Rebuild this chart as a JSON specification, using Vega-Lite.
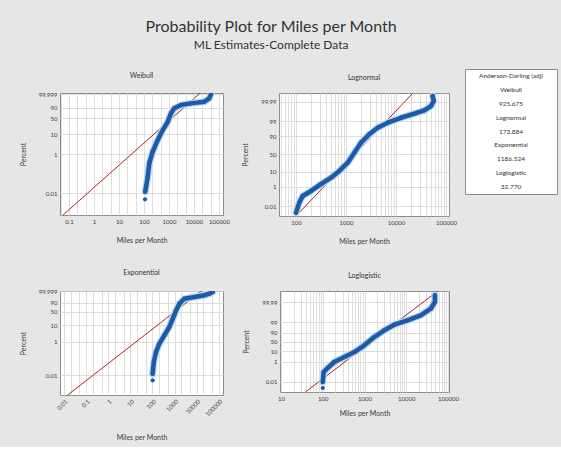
{
  "$schema": "https://vega.github.io/schema/vega-lite/v6.json",
  "background": "#e6e6e6",
  "padding": {"left": 18, "top": 18, "right": 4, "bottom": 6},
  "title": {
    "text": "Probability Plot for Miles per Month",
    "subtitle": "ML Estimates-Complete Data",
    "anchor": "middle",
    "fontSize": 16,
    "fontWeight": "normal",
    "color": "#333333",
    "subtitleFontSize": 12,
    "subtitleColor": "#333333",
    "subtitlePadding": 5,
    "offset": 13,
    "dx": -17
  },
  "datasets": {
    "pts": [
      {"panel": "Weibull", "i": 1, "miles": 110, "score": -9.93},
      {"panel": "Weibull", "i": 2, "miles": 112, "score": -9.04},
      {"panel": "Weibull", "i": 3, "miles": 141, "score": -7.27},
      {"panel": "Weibull", "i": 4, "miles": 163, "score": -5.69},
      {"panel": "Weibull", "i": 5, "miles": 223, "score": -4.33},
      {"panel": "Weibull", "i": 6, "miles": 354, "score": -2.95},
      {"panel": "Weibull", "i": 7, "miles": 562, "score": -1.78},
      {"panel": "Weibull", "i": 8, "miles": 891, "score": -0.80},
      {"panel": "Weibull", "i": 9, "miles": 1202, "score": 0.19},
      {"panel": "Weibull", "i": 10, "miles": 1622, "score": 0.78},
      {"panel": "Weibull", "i": 11, "miles": 3020, "score": 1.16},
      {"panel": "Weibull", "i": 12, "miles": 7586, "score": 1.36},
      {"panel": "Weibull", "i": 13, "miles": 25700, "score": 1.55},
      {"panel": "Weibull", "i": 14, "miles": 40700, "score": 1.95},
      {"panel": "Weibull", "i": 15, "miles": 47900, "score": 2.46},
      {"panel": "Lognormal", "i": 1, "miles": 100, "score": -4.19},
      {"panel": "Lognormal", "i": 2, "miles": 116, "score": -3.48},
      {"panel": "Lognormal", "i": 3, "miles": 136, "score": -3.0},
      {"panel": "Lognormal", "i": 4, "miles": 200, "score": -2.64},
      {"panel": "Lognormal", "i": 5, "miles": 316, "score": -2.16},
      {"panel": "Lognormal", "i": 6, "miles": 501, "score": -1.69},
      {"panel": "Lognormal", "i": 7, "miles": 735, "score": -1.21},
      {"panel": "Lognormal", "i": 8, "miles": 1081, "score": -0.62},
      {"panel": "Lognormal", "i": 9, "miles": 1466, "score": 0.09},
      {"panel": "Lognormal", "i": 10, "miles": 1995, "score": 0.81},
      {"panel": "Lognormal", "i": 11, "miles": 2924, "score": 1.41},
      {"panel": "Lognormal", "i": 12, "miles": 4305, "score": 1.88},
      {"panel": "Lognormal", "i": 13, "miles": 6823, "score": 2.24},
      {"panel": "Lognormal", "i": 14, "miles": 12590, "score": 2.59},
      {"panel": "Lognormal", "i": 15, "miles": 23230, "score": 2.88},
      {"panel": "Lognormal", "i": 16, "miles": 36810, "score": 3.12},
      {"panel": "Lognormal", "i": 17, "miles": 50120, "score": 3.43},
      {"panel": "Lognormal", "i": 18, "miles": 56750, "score": 3.79},
      {"panel": "Lognormal", "i": 19, "miles": 54200, "score": 4.14},
      {"panel": "Exponential", "i": 1, "miles": 102, "score": -9.92},
      {"panel": "Exponential", "i": 2, "miles": 102, "score": -9.0},
      {"panel": "Exponential", "i": 3, "miles": 115, "score": -7.38},
      {"panel": "Exponential", "i": 4, "miles": 145, "score": -5.99},
      {"panel": "Exponential", "i": 5, "miles": 205, "score": -4.84},
      {"panel": "Exponential", "i": 6, "miles": 345, "score": -3.67},
      {"panel": "Exponential", "i": 7, "miles": 577, "score": -2.52},
      {"panel": "Exponential", "i": 8, "miles": 830, "score": -1.36},
      {"panel": "Exponential", "i": 9, "miles": 1175, "score": -0.20},
      {"panel": "Exponential", "i": 10, "miles": 1660, "score": 0.72},
      {"panel": "Exponential", "i": 11, "miles": 2750, "score": 1.41},
      {"panel": "Exponential", "i": 12, "miles": 7940, "score": 1.65},
      {"panel": "Exponential", "i": 13, "miles": 22400, "score": 1.89},
      {"panel": "Exponential", "i": 14, "miles": 37500, "score": 2.11},
      {"panel": "Exponential", "i": 15, "miles": 53200, "score": 2.34},
      {"panel": "Loglogistic", "i": 1, "miles": 100, "score": -10.7},
      {"panel": "Loglogistic", "i": 2, "miles": 100, "score": -9.3},
      {"panel": "Loglogistic", "i": 3, "miles": 105, "score": -6.98},
      {"panel": "Loglogistic", "i": 4, "miles": 131, "score": -6.05},
      {"panel": "Loglogistic", "i": 5, "miles": 189, "score": -4.65},
      {"panel": "Loglogistic", "i": 6, "miles": 330, "score": -3.49},
      {"panel": "Loglogistic", "i": 7, "miles": 573, "score": -2.33},
      {"panel": "Loglogistic", "i": 8, "miles": 990, "score": -0.77},
      {"panel": "Loglogistic", "i": 9, "miles": 1710, "score": 1.16},
      {"panel": "Loglogistic", "i": 10, "miles": 2980, "score": 2.72},
      {"panel": "Loglogistic", "i": 11, "miles": 5160, "score": 4.02},
      {"panel": "Loglogistic", "i": 12, "miles": 10700, "score": 5.05},
      {"panel": "Loglogistic", "i": 13, "miles": 22200, "score": 6.21},
      {"panel": "Loglogistic", "i": 14, "miles": 38600, "score": 7.74},
      {"panel": "Loglogistic", "i": 15, "miles": 48600, "score": 9.3},
      {"panel": "Loglogistic", "i": 16, "miles": 48600, "score": 10.86}
    ],
    "fit": [
      {"panel": "Weibull", "miles": 0.058, "score": -11.78},
      {"panel": "Weibull", "miles": 17800, "score": 2.58},
      {"panel": "Lognormal", "miles": 100, "score": -4.43},
      {"panel": "Lognormal", "miles": 21580, "score": 4.34},
      {"panel": "Exponential", "miles": 0.0147, "score": -11.96},
      {"panel": "Exponential", "miles": 16300, "score": 2.48},
      {"panel": "Loglogistic", "miles": 38.4, "score": -11.63},
      {"panel": "Loglogistic", "miles": 56600, "score": 11.86}
    ],
    "ad": [
      {"row": 1, "label": "Anderson-Darling (adj)"},
      {"row": 2, "label": "Weibull"},
      {"row": 3, "label": "925.675"},
      {"row": 4, "label": "Lognormal"},
      {"row": 5, "label": "173.884"},
      {"row": 6, "label": "Exponential"},
      {"row": 7, "label": "1186.524"},
      {"row": 8, "label": "Loglogistic"},
      {"row": 9, "label": "32.770"}
    ]
  },
  "spacing": 5,
  "hconcat": [
    {
      "spacing": -4,
      "vconcat": [
        {
          "width": 1,
          "height": 1,
          "view": {"stroke": null, "fill": null},
          "data": {"values": [{"blank": ""}]},
          "mark": {"type": "text"},
          "encoding": {"text": {"field": "blank"}}
        },
        {
          "spacing": 23,
          "vconcat": [
            {
              "spacing": 56,
              "bounds": "flush",
              "hconcat": [
                {
                  "title": {"text": "Weibull"},
                  "width": 163,
                  "height": 122,
                  "encoding": {
                    "x": {"field": "miles", "type": "quantitative",
                      "scale": {"type": "log", "domain": [0.0437, 144500], "nice": false},
                      "axis": {"title": "Miles per Month",
                        "values": [0.05, 0.1, 0.2, 0.5, 1, 2, 5, 10, 20, 50, 100, 200, 500, 1000, 2000, 5000, 10000, 20000, 50000, 100000],
                        "labelExpr": "indexof([0.01,0.1,1,10,100,1000,10000,100000], datum.value) >= 0 ? format(datum.value, '~g') : ''"}},
                    "y": {"field": "score", "type": "quantitative",
                      "scale": {"domain": [-11.78, 2.58], "nice": false, "zero": false},
                      "axis": {"title": "Percent",
                        "values": [-9.21029, -4.60015, -2.250367, -0.366513, 0.834032, 2.44347],
                        "labelExpr": "format(round(100000*(1-exp(-exp(datum.value))))/1000, '~f')"}}
                  },
                  "layer": [
                    {"data": {"name": "fit"}, "transform": [{"filter": "datum.panel == 'Weibull'"}],
                     "mark": {"type": "line", "color": "#a3281c", "strokeWidth": 1, "clip": true}, "encoding": {}},
                    {"data": {"name": "pts"}, "transform": [{"filter": "datum.panel == 'Weibull' && datum.i > 1"}],
                     "mark": {"type": "line", "color": "#b4d6f2", "strokeWidth": 7, "strokeCap": "round", "strokeJoin": "round", "clip": true},
                     "encoding": {"order": {"field": "i", "type": "quantitative"}}},
                    {"data": {"name": "pts"}, "transform": [{"filter": "datum.panel == 'Weibull' && datum.i > 1"}],
                     "mark": {"type": "line", "color": "#1f5aa6", "strokeWidth": 4.5, "strokeCap": "round", "strokeJoin": "round", "clip": true},
                     "encoding": {"order": {"field": "i", "type": "quantitative"}}},
                    {"data": {"name": "pts"}, "transform": [{"filter": "datum.panel == 'Weibull'"}],
                     "mark": {"type": "circle", "color": "#1f5aa6", "size": 18, "opacity": 1, "clip": true}}
                  ]
                },
                {
                  "title": {"text": "Lognormal"},
                  "width": 170,
                  "height": 123,
                  "encoding": {
                    "x": {"field": "miles", "type": "quantitative",
                      "scale": {"type": "log", "domain": [45.7, 114800], "nice": false},
                      "axis": {"title": "Miles per Month",
                        "values": [50, 60, 70, 80, 90, 100, 200, 300, 400, 500, 600, 700, 800, 900, 1000, 2000, 3000, 4000, 5000, 6000, 7000, 8000, 9000, 10000, 20000, 30000, 40000, 50000, 60000, 70000, 80000, 90000, 100000],
                        "labelExpr": "indexof([10,100,1000,10000,100000], datum.value) >= 0 ? format(datum.value, '~g') : ''"}},
                    "y": {"field": "score", "type": "quantitative",
                      "scale": {"domain": [-4.43, 4.36], "nice": false, "zero": false},
                      "axis": {"title": "Percent",
                        "values": [-3.719016, -2.326348, -1.281552, 0, 1.281552, 2.326348, 3.719016],
                        "labelExpr": "format(round(100000*cumulativeNormal(datum.value))/1000, '~f')"}}
                  },
                  "layer": [
                    {"data": {"name": "fit"}, "transform": [{"filter": "datum.panel == 'Lognormal'"}],
                     "mark": {"type": "line", "color": "#a3281c", "strokeWidth": 1, "clip": true}, "encoding": {}},
                    {"data": {"name": "pts"}, "transform": [{"filter": "datum.panel == 'Lognormal'"}],
                     "mark": {"type": "line", "color": "#b4d6f2", "strokeWidth": 7, "strokeCap": "round", "strokeJoin": "round", "clip": true},
                     "encoding": {"order": {"field": "i", "type": "quantitative"}}},
                    {"data": {"name": "pts"}, "transform": [{"filter": "datum.panel == 'Lognormal'"}],
                     "mark": {"type": "line", "color": "#1f5aa6", "strokeWidth": 4.5, "strokeCap": "round", "strokeJoin": "round", "clip": true},
                     "encoding": {"order": {"field": "i", "type": "quantitative"}}},
                    {"data": {"name": "pts"}, "transform": [{"filter": "datum.panel == 'Lognormal'"}],
                     "mark": {"type": "circle", "color": "#1f5aa6", "size": 18, "opacity": 1, "clip": true}}
                  ]
                }
              ]
            },
            {
              "spacing": 57,
              "bounds": "flush",
              "hconcat": [
                {
                  "title": {"text": "Exponential"},
                  "width": 163,
                  "height": 104,
                  "encoding": {
                    "x": {"field": "miles", "type": "quantitative",
                      "scale": {"type": "log", "domain": [0.0066, 154900], "nice": false},
                      "axis": {"title": "Miles per Month", "labelAngle": -45, "titlePadding": 16,
                        "values": [0.01, 0.02, 0.05, 0.1, 0.2, 0.5, 1, 2, 5, 10, 20, 50, 100, 200, 500, 1000, 2000, 5000, 10000, 20000, 50000, 100000],
                        "labelExpr": "indexof([0.01,0.1,1,10,100,1000,10000,100000], datum.value) >= 0 ? format(datum.value, '~g') : ''"}},
                    "y": {"field": "score", "type": "quantitative",
                      "scale": {"domain": [-11.96, 2.48], "nice": false, "zero": false},
                      "axis": {"title": "Percent",
                        "values": [-9.21029, -4.60015, -2.250367, -0.366513, 0.834032, 2.44347],
                        "labelExpr": "format(round(100000*(1-exp(-exp(datum.value))))/1000, '~f')"}}
                  },
                  "layer": [
                    {"data": {"name": "fit"}, "transform": [{"filter": "datum.panel == 'Exponential'"}],
                     "mark": {"type": "line", "color": "#a3281c", "strokeWidth": 1, "clip": true}, "encoding": {}},
                    {"data": {"name": "pts"}, "transform": [{"filter": "datum.panel == 'Exponential' && datum.i > 1"}],
                     "mark": {"type": "line", "color": "#b4d6f2", "strokeWidth": 7, "strokeCap": "round", "strokeJoin": "round", "clip": true},
                     "encoding": {"order": {"field": "i", "type": "quantitative"}}},
                    {"data": {"name": "pts"}, "transform": [{"filter": "datum.panel == 'Exponential' && datum.i > 1"}],
                     "mark": {"type": "line", "color": "#1f5aa6", "strokeWidth": 4.5, "strokeCap": "round", "strokeJoin": "round", "clip": true},
                     "encoding": {"order": {"field": "i", "type": "quantitative"}}},
                    {"data": {"name": "pts"}, "transform": [{"filter": "datum.panel == 'Exponential'"}],
                     "mark": {"type": "circle", "color": "#1f5aa6", "size": 18, "opacity": 1, "clip": true}}
                  ]
                },
                {
                  "title": {"text": "Loglogistic"},
                  "width": 169,
                  "height": 101,
                  "encoding": {
                    "x": {"field": "miles", "type": "quantitative",
                      "scale": {"type": "log", "domain": [9.46, 105700], "nice": false},
                      "axis": {"title": "Miles per Month", "titlePadding": 8,
                        "values": [10, 20, 30, 40, 50, 60, 70, 80, 90, 100, 200, 300, 400, 500, 600, 700, 800, 900, 1000, 2000, 3000, 4000, 5000, 6000, 7000, 8000, 9000, 10000, 20000, 30000, 40000, 50000, 60000, 70000, 80000, 90000, 100000],
                        "labelExpr": "indexof([10,100,1000,10000,100000], datum.value) >= 0 ? format(datum.value, '~g') : ''"}},
                    "y": {"field": "score", "type": "quantitative",
                      "scale": {"domain": [-11.63, 11.86], "nice": false, "zero": false},
                      "axis": {"title": "Percent",
                        "values": [-9.21024, -4.59512, -2.197225, 0, 2.197225, 4.59512, 9.21024],
                        "labelExpr": "format(round(100000/(1+exp(-datum.value)))/1000, '~f')"}}
                  },
                  "layer": [
                    {"data": {"name": "fit"}, "transform": [{"filter": "datum.panel == 'Loglogistic'"}],
                     "mark": {"type": "line", "color": "#a3281c", "strokeWidth": 1, "clip": true}, "encoding": {}},
                    {"data": {"name": "pts"}, "transform": [{"filter": "datum.panel == 'Loglogistic' && datum.i > 1"}],
                     "mark": {"type": "line", "color": "#b4d6f2", "strokeWidth": 7, "strokeCap": "round", "strokeJoin": "round", "clip": true},
                     "encoding": {"order": {"field": "i", "type": "quantitative"}}},
                    {"data": {"name": "pts"}, "transform": [{"filter": "datum.panel == 'Loglogistic' && datum.i > 1"}],
                     "mark": {"type": "line", "color": "#1f5aa6", "strokeWidth": 4.5, "strokeCap": "round", "strokeJoin": "round", "clip": true},
                     "encoding": {"order": {"field": "i", "type": "quantitative"}}},
                    {"data": {"name": "pts"}, "transform": [{"filter": "datum.panel == 'Loglogistic'"}],
                     "mark": {"type": "circle", "color": "#1f5aa6", "size": 18, "opacity": 1, "clip": true}}
                  ]
                }
              ]
            }
          ]
        }
      ]
    },
    {
      "width": 92,
      "height": 125,
      "data": {"name": "ad"},
      "mark": {"type": "text", "fontSize": 6.5, "color": "#333333"},
      "encoding": {
        "y": {"field": "row", "type": "ordinal", "axis": null, "scale": {"type": "point", "padding": 0.5}},
        "text": {"field": "label"}
      }
    }
  ],
  "config": {
    "font": "Lato",
    "view": {"stroke": "#8c8c8c", "strokeWidth": 1, "fill": "white"},
    "title": {"fontSize": 7, "fontWeight": "normal", "color": "#333333", "offset": 12},
    "axis": {
      "labelFontSize": 6,
      "titleFontSize": 7,
      "titleFontWeight": "normal",
      "labelColor": "#3a3a3a",
      "titleColor": "#3a3a3a",
      "ticks": false,
      "domain": false,
      "grid": true,
      "gridColor": "#d6d6d6",
      "gridWidth": 0.8,
      "labelPadding": 3,
      "labelFlush": false,
      "labelOverlap": false
    },
    "axisX": {"titlePadding": 12},
    "axisY": {"titlePadding": 12}
  }
}
